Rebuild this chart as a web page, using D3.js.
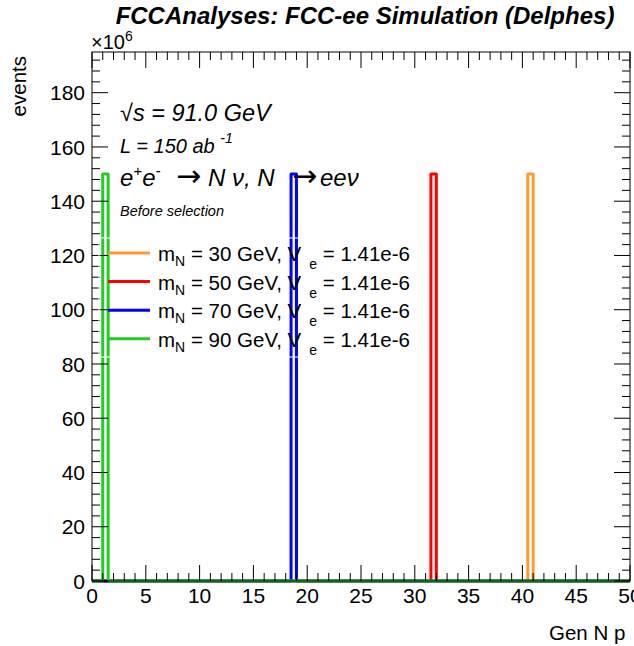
<!DOCTYPE html>
<html>
<head>
<meta charset="utf-8">
<script src="https://cdn.jsdelivr.net/npm/d3@7"></script>
<style>
  body { margin: 0; background: #fff; }
  text { font-family: "Liberation Sans", Arial, Helvetica, sans-serif; fill: #000; }
</style>
</head>
<body>
<svg id="plot" width="634" height="646"></svg>
<script>
// Heavy neutral lepton samples: one entry per mass point
var massLabels = ['30', '50', '70', '90'];
var mixing = ['1.41e-6', '1.41e-6', '1.41e-6', '1.41e-6'];
var colors = ['#ff9a30', '#ff0000', '#0000ff', '#22cc22'];
// low edge of the filled bin (GeV) and its content (x10^6 events)
var peakBinLow = [40.5, 31.5, 18.5, 1.0];
var peakEvents = [150, 150, 150, 150];
var binWidth = 0.5;

var xTickLabels = [0, 5, 10, 15, 20, 25, 30, 35, 40, 45, 50];
var yTickLabels = [0, 20, 40, 60, 80, 100, 120, 140, 160, 180];

var svg = d3.select('#plot');
var frame = { left: 92, right: 630, top: 52, bottom: 581 };

var x = d3.scaleLinear().domain([0, 50]).range([frame.left, frame.right]);
var y = d3.scaleLinear().domain([0, 195]).range([frame.bottom, frame.top]);

// histogram outlines, zero bins sit on the axis
var line = d3.line().x(d => x(d[0])).y(d => y(d[1]));
peakBinLow.forEach(function(lo, i) {
  var hi = lo + binWidth;
  var pts = [[0, 0], [lo, 0], [lo, peakEvents[i]], [hi, peakEvents[i]], [hi, 0], [50, 0]];
  svg.append('path')
    .attr('d', line(pts))
    .attr('fill', 'none')
    .attr('stroke', colors[i])
    .attr('stroke-width', 3)
    .attr('stroke-linejoin', 'round');
});

// frame
svg.append('rect')
  .attr('x', frame.left).attr('y', frame.top)
  .attr('width', frame.right - frame.left)
  .attr('height', frame.bottom - frame.top)
  .attr('fill', 'none').attr('stroke', '#000').attr('stroke-width', 1);

// ticks on all four sides, pointing inward
var ticks = svg.append('g').attr('stroke', '#000').attr('stroke-width', 1);
d3.range(0, 51, 1).forEach(function(v) {
  var len = v % 5 === 0 ? 16 : 8;
  ticks.append('line').attr('x1', x(v)).attr('x2', x(v)).attr('y1', frame.bottom).attr('y2', frame.bottom - len);
  ticks.append('line').attr('x1', x(v)).attr('x2', x(v)).attr('y1', frame.top).attr('y2', frame.top + len);
});
d3.range(0, 195, 4).forEach(function(v) {
  var len = v % 20 === 0 ? 16 : 8;
  ticks.append('line').attr('y1', y(v)).attr('y2', y(v)).attr('x1', frame.left).attr('x2', frame.left + len);
  ticks.append('line').attr('y1', y(v)).attr('y2', y(v)).attr('x1', frame.right).attr('x2', frame.right - len);
});

// tick labels
svg.append('g').selectAll('text').data(xTickLabels).enter().append('text')
  .attr('x', d => x(d)).attr('y', 603)
  .attr('text-anchor', 'middle').attr('font-size', 21)
  .text(d => d);
svg.append('g').selectAll('text').data(yTickLabels).enter().append('text')
  .attr('x', 85).attr('y', d => y(d)).attr('dy', '0.36em')
  .attr('text-anchor', 'end').attr('font-size', 21)
  .text(d => d);

// exponent of the y axis
var expo = svg.append('text').attr('x', 91).attr('y', 49).attr('font-size', 20);
expo.append('tspan').text('\u00d710');
expo.append('tspan').attr('dy', -8).attr('font-size', 14).text('6');

// axis titles
svg.append('text')
  .attr('transform', 'translate(26,56) rotate(-90)')
  .attr('text-anchor', 'end').attr('font-size', 20.5)
  .text('events');
svg.append('text')
  .attr('x', 549).attr('y', 640).attr('font-size', 20.5)
  .text('Gen N p');

// title
svg.append('text')
  .attr('x', 365).attr('y', 23.5)
  .attr('text-anchor', 'middle')
  .attr('font-size', 24).attr('font-weight', 'bold').attr('font-style', 'italic')
  .text('FCCAnalyses: FCC-ee Simulation (Delphes)');

// running conditions
svg.append('text').attr('x', 120).attr('y', 121)
  .attr('font-size', 23.5).attr('font-style', 'italic')
  .text('\u221As = 91.0 GeV');
var lumi = svg.append('text').attr('x', 120).attr('y', 153)
  .attr('font-size', 20).attr('font-style', 'italic');
lumi.append('tspan').text('L = 150 ab ');
lumi.append('tspan').attr('dy', -10).attr('font-size', 14).text('-1');
var proc = svg.append('text').attr('x', 120).attr('y', 186)
  .attr('font-size', 24).attr('font-style', 'italic');
proc.append('tspan').text('e');
proc.append('tspan').attr('dy', -10).attr('font-size', 15).text('+');
proc.append('tspan').attr('dy', 10).text('e');
proc.append('tspan').attr('dy', -10).attr('font-size', 15).text('-');
proc.append('tspan').attr('x', 176).attr('dy', 10)
  .attr('font-family', 'DejaVu Sans').attr('font-style', 'normal').attr('font-size', 30).text('\u2192');
proc.append('tspan').attr('x', 208).text('N \u03bd, N');
proc.append('tspan').attr('x', 292)
  .attr('font-family', 'DejaVu Sans').attr('font-style', 'normal').attr('font-size', 30).text('\u2192');
proc.append('tspan').attr('x', 320).text('ee\u03bd');
svg.append('text').attr('x', 120).attr('y', 216)
  .attr('font-size', 14.5).attr('font-style', 'italic')
  .text('Before selection');

// legend
var legend = svg.append('g');
legend.append('rect')
  .attr('x', 99).attr('y', 238).attr('width', 324).attr('height', 119)
  .attr('fill', 'none').attr('stroke', '#fff').attr('stroke-width', 1);
massLabels.forEach(function(m, i) {
  var base = 261 + i * 28.6;
  legend.append('line')
    .attr('x1', 108).attr('x2', 150)
    .attr('y1', base - 8).attr('y2', base - 8)
    .attr('stroke', colors[i]).attr('stroke-width', 3);
  var t = legend.append('text').attr('x', 158).attr('y', base).attr('font-size', 20.5);
  t.append('tspan').text('m');
  t.append('tspan').attr('dy', 5).attr('font-size', 14).text('N');
  t.append('tspan').attr('dy', -5).text(' = ' + m + ' GeV, V');
  t.append('tspan').attr('dx', 8).attr('dy', 8).attr('font-size', 14).text('e');
  t.append('tspan').attr('dy', -8).text(' = ' + mixing[i]);
});
</script>
</body>
</html>
